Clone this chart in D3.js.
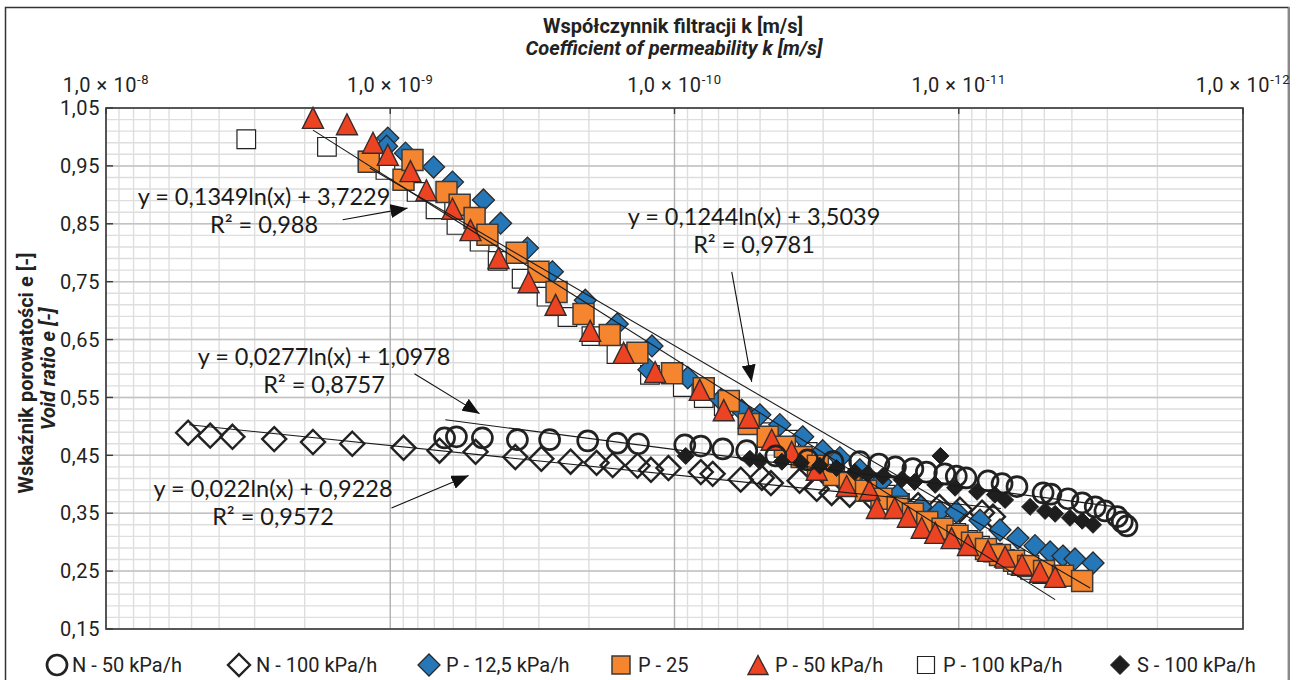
<!DOCTYPE html>
<html>
<head>
<meta charset="utf-8">
<script src="https://cdn.jsdelivr.net/npm/d3@7"></script>
<style>
  body { margin: 0; background: #fff; }
  svg { display: block; font-family: "Liberation Sans Narrow", "Roboto", sans-serif; }
</style>
</head>
<body>
<div id="chart"></div>
<script>
// series: [k (m/s), e]
const n50 = [[6.44e-10,0.480],[5.85e-10,0.482],[4.74e-10,0.480],[3.57e-10,0.477],[2.75e-10,0.477],[2.02e-10,0.475],[1.59e-10,0.471],[1.34e-10,0.470],[9.20e-11,0.468],[8.08e-11,0.466],[6.76e-11,0.461],[5.57e-11,0.458],[4.40e-11,0.449],[3.40e-11,0.442],[2.77e-11,0.439],[2.23e-11,0.439],[1.91e-11,0.435],[1.67e-11,0.430],[1.45e-11,0.427],[1.30e-11,0.421],[1.12e-11,0.418],[1.02e-11,0.414],[9.43e-12,0.411],[7.89e-12,0.406],[7.04e-12,0.401],[6.24e-12,0.396],[5.05e-12,0.385],[4.74e-12,0.383],[4.13e-12,0.375],[3.68e-12,0.368],[3.31e-12,0.361],[3.06e-12,0.354],[2.77e-12,0.344],[2.66e-12,0.335],[2.56e-12,0.328]];
const n100 = [[5.14e-9,0.489],[4.30e-9,0.484],[3.59e-9,0.482],[2.56e-9,0.478],[1.87e-9,0.473],[1.36e-9,0.470],[8.98e-10,0.463],[6.71e-10,0.458],[5.01e-10,0.456],[3.63e-10,0.447],[2.94e-10,0.444],[2.32e-10,0.439],[1.88e-10,0.437],[1.65e-10,0.433],[1.35e-10,0.432],[1.21e-10,0.425],[1.05e-10,0.428],[8.08e-11,0.421],[7.34e-11,0.418],[5.85e-11,0.408],[4.93e-11,0.411],[4.58e-11,0.402],[3.63e-11,0.406],[3.16e-11,0.392],[2.80e-11,0.385],[2.42e-11,0.382],[2.02e-11,0.377],[1.68e-11,0.370],[1.39e-11,0.364],[1.17e-11,0.361],[9.90e-12,0.356],[8.28e-12,0.351],[7.58e-12,0.344]];
const p125 = [[1.02e-9,0.998],[1.03e-9,0.984],[8.84e-10,0.972],[7.04e-10,0.948],[6.04e-10,0.922],[4.70e-10,0.891],[4.09e-10,0.851],[3.29e-10,0.808],[2.69e-10,0.767],[2.06e-10,0.718],[1.59e-10,0.677],[1.20e-10,0.639],[1.23e-10,0.598],[8.98e-11,0.584],[6.87e-11,0.546],[5.80e-11,0.528],[5.01e-11,0.520],[4.26e-11,0.503],[3.54e-11,0.482],[3.01e-11,0.458],[2.62e-11,0.446],[2.23e-11,0.425],[1.88e-11,0.404],[1.64e-11,0.382],[1.36e-11,0.361],[1.17e-11,0.353],[1.02e-11,0.352],[8.42e-12,0.338],[7.16e-12,0.321],[6.19e-12,0.307],[5.39e-12,0.294],[4.77e-12,0.283],[4.30e-12,0.276],[3.90e-12,0.271],[3.37e-12,0.264]];
const p25 = [[1.19e-9,0.957],[8.98e-10,0.926],[8.35e-10,0.960],[6.34e-10,0.905],[5.70e-10,0.883],[5.05e-10,0.860],[4.55e-10,0.831],[3.59e-10,0.800],[3.01e-10,0.767],[2.60e-10,0.732],[2.09e-10,0.694],[1.69e-10,0.658],[1.35e-10,0.627],[1.02e-10,0.592],[7.89e-11,0.566],[6.44e-11,0.544],[5.48e-11,0.504],[4.70e-11,0.482],[4.09e-11,0.465],[3.57e-11,0.447],[3.13e-11,0.432],[2.75e-11,0.416],[2.42e-11,0.402],[2.12e-11,0.389],[1.87e-11,0.375],[1.64e-11,0.361],[1.45e-11,0.349],[1.29e-11,0.335],[1.14e-11,0.323],[1.01e-11,0.311],[8.98e-12,0.299],[8.02e-12,0.288],[7.16e-12,0.278],[6.39e-12,0.268],[5.70e-12,0.259],[5.01e-12,0.250],[4.30e-12,0.242],[3.68e-12,0.233]];
const p50 = [[1.87e-9,1.033],[1.42e-9,1.022],[1.15e-9,0.990],[1.02e-9,0.969],[8.49e-10,0.941],[7.46e-10,0.908],[6.04e-10,0.876],[5.22e-10,0.839],[4.16e-10,0.791],[3.26e-10,0.749],[2.62e-10,0.710],[1.98e-10,0.665],[1.51e-10,0.627],[1.17e-10,0.594],[8.15e-11,0.563],[6.71e-11,0.528],[5.48e-11,0.515],[4.55e-11,0.477],[3.87e-11,0.456],[3.16e-11,0.425],[2.48e-11,0.397],[2.06e-11,0.390],[1.94e-11,0.359],[1.68e-11,0.359],[1.51e-11,0.344],[1.35e-11,0.325],[1.21e-11,0.316],[1.06e-11,0.307],[9.28e-12,0.295],[7.89e-12,0.285],[6.87e-12,0.275],[5.99e-12,0.261],[5.18e-12,0.249],[4.58e-12,0.240]];
const p100 = [[3.21e-9,0.996],[1.67e-9,0.983],[1.20e-9,0.959],[1.04e-9,0.943],[8.91e-10,0.924],[8.08e-10,0.905],[6.93e-10,0.875],[5.85e-10,0.848],[4.85e-10,0.819],[4.19e-10,0.786],[3.45e-10,0.755],[2.82e-10,0.724],[2.38e-10,0.689],[1.96e-10,0.656],[1.60e-10,0.625],[1.22e-10,0.589],[9.35e-11,0.568],[7.89e-11,0.549],[6.71e-11,0.535],[5.52e-11,0.506],[4.62e-11,0.490],[3.93e-11,0.477],[3.40e-11,0.456],[2.96e-11,0.442],[2.58e-11,0.425],[2.27e-11,0.411],[2.02e-11,0.396],[1.81e-11,0.382],[1.61e-11,0.368],[1.44e-11,0.354],[1.29e-11,0.342],[1.15e-11,0.328],[1.02e-11,0.316],[9.28e-12,0.304],[8.42e-12,0.294],[7.58e-12,0.282],[6.87e-12,0.271],[6.24e-12,0.261],[5.61e-12,0.252],[5.09e-12,0.245]];
const s100 = [[9.13e-11,0.449],[5.43e-11,0.444],[5.01e-11,0.440],[4.19e-11,0.439],[3.59e-11,0.437],[3.08e-11,0.432],[2.69e-11,0.428],[2.32e-11,0.421],[2.09e-11,0.418],[1.85e-11,0.414],[1.59e-11,0.408],[1.43e-11,0.404],[1.21e-11,0.399],[1.16e-11,0.449],[1.03e-11,0.394],[8.62e-12,0.387],[7.46e-12,0.382],[6.87e-12,0.373],[5.61e-12,0.361],[4.97e-12,0.354],[4.58e-12,0.349],[4.06e-12,0.342],[3.68e-12,0.337],[3.37e-12,0.330]];

const seriesNames = ["N - 50 kPa/h", "N - 100 kPa/h", "P - 12,5 kPa/h", "P - 25", "P - 50 kPa/h", "P - 100 kPa/h", "S - 100 kPa/h"];

// trendlines e = a*ln(k) + b, drawn from kFrom to kTo
const trendA = [0.1349, 0.1244, 0.0277, 0.022];
const trendB = [3.7229, 3.5039, 1.0978, 0.9228];
const trendFrom = [1.87e-9, 1.18e-9, 6.4e-10, 5.1e-9];
const trendTo = [4.58e-12, 3.45e-12, 2.63e-12, 7.1e-12];
const trendEq = ["y = 0,1349ln(x) + 3,7229", "y = 0,1244ln(x) + 3,5039", "y = 0,0277ln(x) + 1,0978", "y = 0,022ln(x) + 0,9228"];
const trendR2 = ["R² = 0,988", "R² = 0,9781", "R² = 0,8757", "R² = 0,9572"];
// arrows [from, to] in data units
const arrows = [
  [[1.47e-9, 0.857], [8.7e-10, 0.877]],
  [[6.29e-11, 0.767], [5.35e-11, 0.577]],
  [[8.22e-10, 0.591], [4.85e-10, 0.522]],
  [[9.9e-10, 0.359], [5.3e-10, 0.415]]
];
const xTicks = [1e-8, 1e-9, 1e-10, 1e-11, 1e-12];
const xExponents = ["-8", "-9", "-10", "-11", "-12"];

const W = 1299, H = 680;
const plot = { left: 106, right: 1243, top: 108, bottom: 629 };

const svg = d3.select("#chart").append("svg").attr("width", W).attr("height", H);

const x = d3.scaleLog().domain([1e-8, 1e-12]).range([plot.left, plot.right]);
const y = d3.scaleLinear().domain([0.15, 1.05]).range([plot.bottom, plot.top]);

function diamondPath(h) {
  return `M0,${-h}L${h},0L0,${h}L${-h},0Z`;
}
function squarePath(h) {
  return `M${-h},${-h}H${h}V${h}H${-h}Z`;
}
function trianglePath(w, h) {
  return `M0,${-h / 2}L${w / 2},${h / 2}L${-w / 2},${h / 2}Z`;
}

const styles = [
  { shape: "circle", r: 10, fill: "none", stroke: "#222", sw: 2.7 },
  { shape: diamondPath(12), fill: "none", stroke: "#222", sw: 2.4 },
  { shape: diamondPath(11), fill: "#2577b8", stroke: "#2a2a2a", sw: 1.3 },
  { shape: squarePath(10.5), fill: "#f5862f", stroke: "#3a3a3a", sw: 1.5 },
  { shape: trianglePath(21, 21), fill: "#ec4322", stroke: "#3a2a2a", sw: 1.4 },
  { shape: squarePath(9.3), fill: "#fff", stroke: "#222", sw: 1.2 },
  { shape: diamondPath(8.5), fill: "#1e1e1e", stroke: "#1e1e1e", sw: 1 }
];
const legendShapes = ["circle", diamondPath(11), diamondPath(11), squarePath(9), trianglePath(20, 19), squarePath(8.5), diamondPath(9.5)];
const seriesData = [n50, n100, p125, p25, p50, p100, s100];

// outer frame
svg.append("rect").attr("x", 5.5).attr("y", 7.5).attr("width", 1283).attr("height", 700)
  .attr("fill", "none").attr("stroke", "#333").attr("stroke-width", 1.5);
svg.append("line").attr("x1", 1289).attr("x2", 1289).attr("y1", 7).attr("y2", 680)
  .attr("stroke", "#888").attr("stroke-width", 2);

drawGrid();
drawSeries();
drawTrends();
drawAxes();
drawLegend();

function drawGrid() {
  const g = svg.append("g");
  const minorX = [];
  for (let p = 9; p <= 12; p++) for (let m = 2; m <= 9; m++) minorX.push(m * Math.pow(10, -p));
  const minorY = d3.range(0, 46).map((i) => 0.15 + 0.02 * i);
  const majorY = d3.range(0, 10).map((i) => 0.15 + 0.1 * i);

  g.selectAll(".mx").data(minorX).enter().append("line")
    .attr("x1", (d) => x(d)).attr("x2", (d) => x(d))
    .attr("y1", plot.top).attr("y2", plot.bottom)
    .attr("stroke", "#dedede").attr("stroke-width", 1.4);
  g.selectAll(".my").data(minorY).enter().append("line")
    .attr("x1", plot.left).attr("x2", plot.right)
    .attr("y1", (d) => y(d)).attr("y2", (d) => y(d))
    .attr("stroke", "#dedede").attr("stroke-width", 1.4);
  g.selectAll(".My").data(majorY).enter().append("line")
    .attr("x1", plot.left).attr("x2", plot.right)
    .attr("y1", (d) => y(d)).attr("y2", (d) => y(d))
    .attr("stroke", "#c2c2c2").attr("stroke-width", 1.5);
  g.selectAll(".Mx").data(xTicks).enter().append("line")
    .attr("x1", (d) => x(d)).attr("x2", (d) => x(d))
    .attr("y1", plot.top).attr("y2", plot.bottom)
    .attr("stroke", "#b0b0b0").attr("stroke-width", 1.4);
}

function addMarks(g, data, st, shape, px, py) {
  if (shape === "circle") {
    g.selectAll("circle").data(data).enter().append("circle")
      .attr("cx", px).attr("cy", py).attr("r", st.r)
      .attr("fill", st.fill).attr("stroke", st.stroke).attr("stroke-width", st.sw);
  } else {
    g.selectAll("path").data(data).enter().append("path")
      .attr("d", shape)
      .attr("transform", (d) => `translate(${px(d)},${py(d)})`)
      .attr("fill", st.fill).attr("stroke", st.stroke).attr("stroke-width", st.sw);
  }
}

function drawSeries() {
  // drawing order: lower layers first
  const order = [1, 5, 2, 3, 4, 0, 6];
  order.forEach((i) =>
    addMarks(svg.append("g"), seriesData[i], styles[i], styles[i].shape, (d) => x(d[0]), (d) => y(d[1]))
  );
}

function drawTrends() {
  const g = svg.append("g");
  const lineData = trendA.map((a, i) => [trendFrom[i], trendTo[i]].map((k) => [k, a * Math.log(k) + trendB[i]]));
  g.selectAll(".trend").data(lineData).enter().append("path")
    .attr("d", d3.line().x((d) => x(d[0])).y((d) => y(d[1])))
    .attr("fill", "none").attr("stroke", "#1a1a1a").attr("stroke-width", 1.1);

  svg.append("defs").append("marker")
    .attr("id", "head").attr("markerUnits", "userSpaceOnUse")
    .attr("markerWidth", 18).attr("markerHeight", 14)
    .attr("refX", 17).attr("refY", 7).attr("orient", "auto")
    .append("path").attr("d", "M0,0L17,7L0,14Z").attr("fill", "#111");

  g.selectAll(".arrow").data(arrows).enter().append("path")
    .attr("d", d3.line().x((d) => x(d[0])).y((d) => y(d[1])))
    .attr("stroke", "#111").attr("stroke-width", 1.1).attr("fill", "none")
    .attr("marker-end", "url(#head)");

  const labelPos = [[264, 205], [754, 225], [324, 365], [273, 497]];
  const t = g.selectAll(".eq").data(trendEq).enter().append("g")
    .attr("transform", (d, i) => `translate(${labelPos[i][0]},${labelPos[i][1]})`)
    .style("font-family", "Lato, 'Open Sans', sans-serif").style("font-size", "23.5px")
    .attr("fill", "#1a1a1a").attr("text-anchor", "middle");
  t.append("text").text((d) => d);
  t.append("text").attr("y", 28).text((d, i) => trendR2[i]);
}

function drawAxes() {
  const g = svg.append("g");
  g.append("rect").attr("x", plot.left).attr("y", plot.top)
    .attr("width", plot.right - plot.left).attr("height", plot.bottom - plot.top)
    .attr("fill", "none").attr("stroke", "#3a3a3a").attr("stroke-width", 1.6);

  const yTicks = d3.range(0, 10).map((i) => 0.15 + 0.1 * i);
  g.selectAll(".yt").data(yTicks).enter().append("line")
    .attr("x1", plot.left).attr("x2", plot.left + 7)
    .attr("y1", (d) => y(d)).attr("y2", (d) => y(d))
    .attr("stroke", "#3a3a3a").attr("stroke-width", 1.4);
  g.selectAll(".yl").data(yTicks).enter().append("text")
    .attr("x", plot.left - 6).attr("y", (d) => y(d)).attr("dy", "0.36em")
    .attr("text-anchor", "end").style("font-size", "20px").attr("fill", "#222")
    .style("letter-spacing", "0.6px")
    .text((d) => d.toFixed(2).replace(".", ","));

  g.selectAll(".xt").data(xTicks).enter().append("line")
    .attr("x1", (d) => x(d)).attr("x2", (d) => x(d))
    .attr("y1", plot.top).attr("y2", plot.top + 6)
    .attr("stroke", "#3a3a3a").attr("stroke-width", 1.4);
  const xl = g.selectAll(".xl").data(xTicks).enter().append("text")
    .attr("x", (d) => x(d)).attr("y", 92)
    .attr("text-anchor", "middle").style("font-size", "20px").attr("fill", "#222")
    .style("letter-spacing", "0.6px");
  xl.append("tspan").text("1,0 × 10");
  xl.append("tspan").attr("dy", -8).style("font-size", "13px").text((d, i) => xExponents[i]);

  // titles
  g.append("text").attr("x", 673).attr("y", 33).attr("text-anchor", "middle")
    .style("font-size", "20px").style("font-weight", "bold").attr("fill", "#222")
    .text("Współczynnik filtracji k [m/s]");
  g.append("text").attr("x", 674).attr("y", 55).attr("text-anchor", "middle")
    .style("font-size", "20px").style("font-weight", "bold").style("font-style", "italic").attr("fill", "#222")
    .text("Coefficient of permeability k [m/s]");
  g.append("text").attr("transform", "translate(33,373) rotate(-90)").attr("text-anchor", "middle")
    .style("font-size", "20px").style("font-weight", "bold").attr("fill", "#222")
    .text("Wskaźnik porowatości e [-]");
  g.append("text").attr("transform", "translate(55,369) rotate(-90)").attr("text-anchor", "middle")
    .style("font-size", "20px").style("font-weight", "bold").style("font-style", "italic").attr("fill", "#222")
    .text("Void ratio e [-]");
}

function drawLegend() {
  const legendX = [57, 239, 429, 621, 758, 926, 1120];
  const ly = 665;
  const items = svg.append("g").selectAll(".lg").data(seriesNames).enter().append("g")
    .attr("transform", (d, i) => `translate(${legendX[i]},${ly})`);
  items.each(function (d, i) {
    addMarks(d3.select(this), [0], styles[i], legendShapes[i], () => 0, () => 0);
  });
  items.append("text").attr("x", (d, i) => (i === 0 ? 15 : 17)).attr("y", 7)
    .style("font-size", "20px").attr("fill", "#222").text((d) => d);
}
</script>
</body>
</html>
